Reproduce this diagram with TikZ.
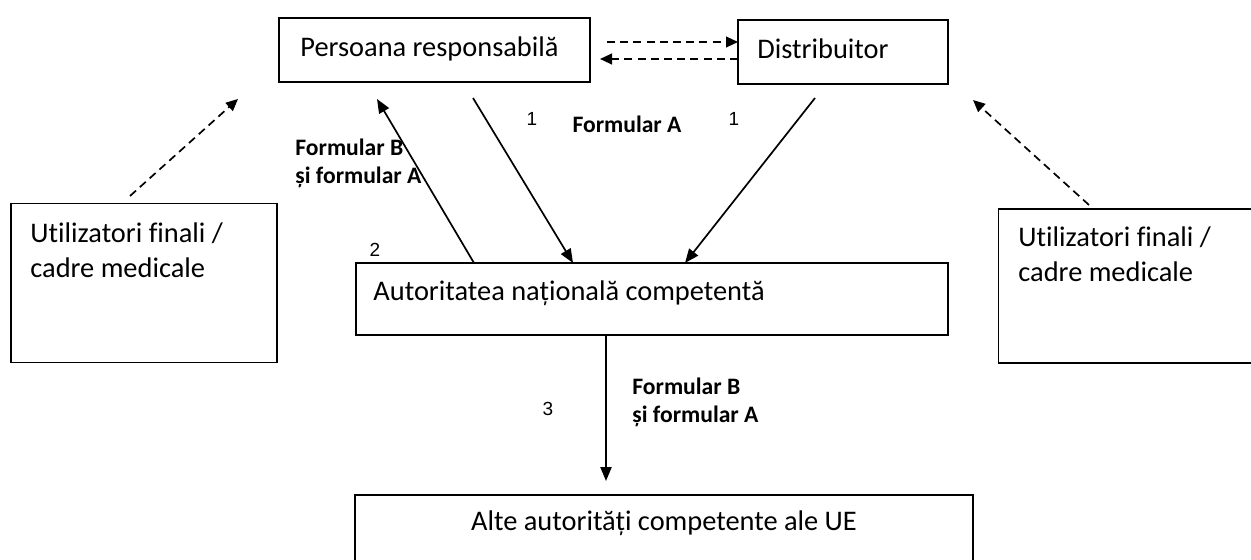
\documentclass[tikz,border=0pt]{standalone}
\usepackage{fontspec}
\setmainfont{Carlito}[Ligatures=NoCommon]
\newfontfamily\numfont{Liberation Sans}
\usetikzlibrary{arrows.meta}
\begin{document}
\begin{tikzpicture}[x=0.5pt,y=-0.5pt,
  box/.style={draw, line width=0.8pt, anchor=north west, inner sep=0pt, outer sep=0pt},
  txt/.style={anchor=west, inner sep=0pt, font=\fontsize{14.2}{17.5}\selectfont, align=left},
  lbl/.style={anchor=west, inner sep=0pt, font=\fontsize{11.8}{14}\selectfont\bfseries, align=left},
  num/.style={inner sep=0pt, font=\numfont\fontsize{9.5}{11}\selectfont},
  solidarrow/.style={line width=0.85pt, -{Triangle[length=7pt,width=5.6pt]}},
  dasharrow/.style={line width=0.85pt, dash pattern=on 4pt off 2.6pt, -{Triangle[length=6pt,width=5.4pt]}}
]
\clip (0,0) rectangle (1251,560);
\fill[white] (0,0) rectangle (1251,560);

% boxes
\node[box, minimum width=155.5pt, minimum height=32pt] (pr) at (279,18) {};
\node[box, minimum width=105pt, minimum height=32pt] (dist) at (738,20) {};
\node[box, minimum width=133pt, minimum height=79.5pt] (ul) at (11,203.5) {};
\node[box, minimum width=140pt, minimum height=77pt] (ur) at (998.5,209) {};
\node[box, minimum width=296pt, minimum height=36pt] (anc) at (356,263) {};
\node[box, minimum width=309pt, minimum height=45pt] (alte) at (355,495) {};

% box texts
\node[txt] (prt) at (300,49) {Persoana responsabilă};
\node[txt] (distt) at (757,49) {Distribuitor};
\node[txt] (ult) at (30,250) {Utilizatori finali /\\cadre medicale};
\node[txt] (urt) at (1018,254) {Utilizatori finali /\\cadre medicale};
\node[txt] (anct) at (373,293) {Autoritatea națională competentă};
\node[txt, anchor=center] (altet) at (664,523) {Alte autorități competente ale UE};

% coordinates
\coordinate (t1s) at (607,42);
\coordinate (b1e) at (600,59);
\coordinate (d1s) at (130,196);
\coordinate (d1e) at (238,99);
\coordinate (d2s) at (1089,205);
\coordinate (d2e) at (973,100);
\coordinate (a2s) at (474,263);
\coordinate (a2e) at (377,99);
\coordinate (a1s) at (473,98);
\coordinate (a1e) at (573,263);
\coordinate (a3s) at (815,98);
\coordinate (a3e) at (685,263);
\coordinate (v1s) at (606,336);
\coordinate (v1e) at (606,481);

% dashed connectors
\draw[dasharrow] (t1s) -- (t1s -| dist.west);
\draw[dasharrow] (b1e -| dist.west) -- (b1e);
\draw[dasharrow] (d1s) -- (d1e);
\draw[dasharrow] (d2s) -- (d2e);

% solid connectors
\draw[solidarrow] (a2s) -- (a2e);
\draw[solidarrow] (a1s) -- (a1e);
\draw[solidarrow] (a3s) -- (a3e);
\draw[solidarrow] (v1s) -- (v1e);

% labels
\node[num] (n1a) at (532,119) {1};
\node[num] (n1b) at (734,119) {1};
\node[num] (n2) at (375,250) {2};
\node[num] (n3) at (548,409) {3};
\node[lbl, anchor=center] (fa) at (627,124) {Formular A};
\node[lbl] (fb1) at (295,163) {Formular B\\și formular A};
\node[lbl] (fb2) at (632,402) {Formular B\\și formular A};
\end{tikzpicture}
\end{document}
